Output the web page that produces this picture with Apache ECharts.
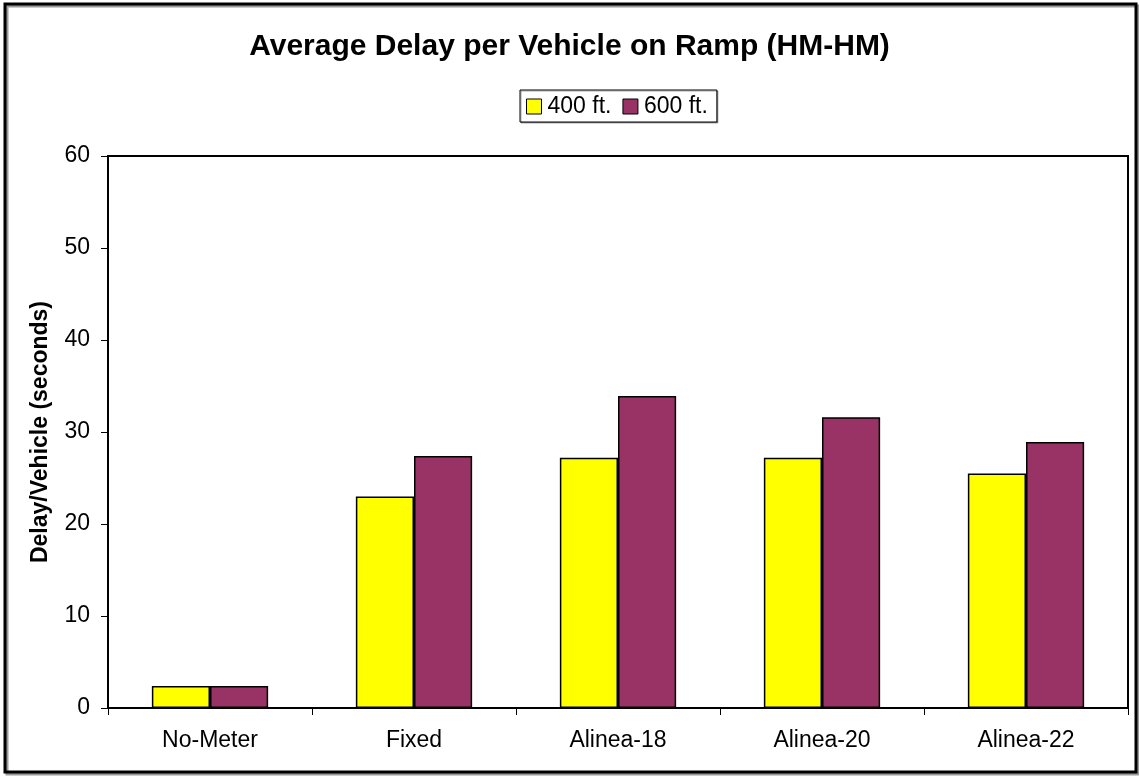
<!DOCTYPE html>
<html>
<head>
<meta charset="utf-8">
<script src="https://cdn.jsdelivr.net/npm/echarts@6/dist/echarts.min.js"></script>
<style>
  html, body { margin: 0; padding: 0; background: #fff; }
  #chart { width: 1139px; height: 776px; }
</style>
</head>
<body>
<div id="chart"></div>
<script>
// Ramp-metering strategies and average delay per vehicle (seconds)
const categories = ['No-Meter', 'Fixed', 'Alinea-18', 'Alinea-20', 'Alinea-22'];
const delay400 = [2.4, 23.0, 27.2, 27.2, 25.5];
const delay600 = [2.4, 27.4, 33.9, 31.6, 28.9];
const yTicks = { min: 0, max: 60, interval: 10 };

const FONT = '"Liberation Sans", Arial, sans-serif';

const chart = echarts.init(document.getElementById('chart'), null, { renderer: 'canvas' });

chart.setOption({
  backgroundColor: '#fff',
  animation: false,
  title: {
    text: 'Average Delay per Vehicle on Ramp (HM-HM)',
    left: 'center',
    top: 27,
    textStyle: { fontFamily: FONT, fontSize: 30, fontWeight: 'bold', color: '#000' }
  },
  legend: {
    left: 520,
    top: 90,
    padding: [5, 9, 4, 6],
    itemGap: 11,
    itemWidth: 15,
    itemHeight: 15,
    icon: 'rect',
    borderColor: '#000',
    borderWidth: 1,
    shadowColor: 'rgba(0,0,0,0.35)',
    shadowOffsetX: 1,
    shadowOffsetY: 1,
    backgroundColor: '#fff',
    textStyle: { fontFamily: FONT, fontSize: 23, color: '#000', padding: [0, 0, 0, 1] },
    itemStyle: { borderColor: '#000', borderWidth: 1 }
  },
  grid: {
    left: 108,
    right: 11,
    top: 156,
    bottom: 68,
    show: true,
    borderColor: '#000',
    borderWidth: 2,
    containLabel: false
  },
  xAxis: {
    type: 'category',
    data: categories,
    axisLine: { lineStyle: { color: '#000', width: 2 } },
    axisTick: { show: true, length: 7, lineStyle: { color: '#000', width: 1 } },
    axisLabel: { fontFamily: FONT, fontSize: 23, color: '#000', margin: 21 }
  },
  yAxis: {
    type: 'value',
    min: yTicks.min,
    max: yTicks.max,
    interval: yTicks.interval,
    name: 'Delay/Vehicle (seconds)',
    nameLocation: 'middle',
    nameGap: 56,
    nameTextStyle: { fontFamily: FONT, fontSize: 23, fontWeight: 'bold', color: '#000' },
    axisLine: { show: true, lineStyle: { color: '#000', width: 2 } },
    axisTick: { show: true, length: 7, lineStyle: { color: '#000', width: 1 } },
    axisLabel: { fontFamily: FONT, fontSize: 23, color: '#000', margin: 18 },
    splitLine: { show: false }
  },
  series: [
    {
      name: '400 ft.',
      type: 'bar',
      data: delay400,
      barGap: '0%',
      barCategoryGap: '43%',
      itemStyle: { color: '#FFFF00', borderColor: '#000', borderWidth: 1.5 }
    },
    {
      name: '600 ft.',
      type: 'bar',
      data: delay600,
      itemStyle: { color: '#993366', borderColor: '#000', borderWidth: 1.5 }
    }
  ],
  graphic: [
    {
      type: 'rect',
      shape: { x: 5, y: 4, width: 1131, height: 768 },
      style: {
        fill: null,
        stroke: '#000',
        lineWidth: 3,
        shadowColor: 'rgba(0,0,0,0.4)',
        shadowOffsetX: 2,
        shadowOffsetY: 2
      },
      silent: true,
      z: 10
    }
  ]
});
</script>
</body>
</html>
